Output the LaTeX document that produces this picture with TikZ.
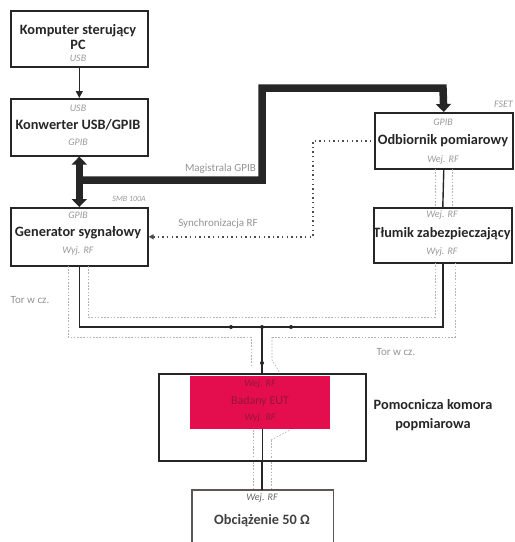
\documentclass[tikz,border=0pt]{standalone}
\usepackage{fontspec}
\setmainfont{Carlito}
\usetikzlibrary{arrows.meta}
\definecolor{dutred}{RGB}{228,14,78}
\definecolor{duttext}{RGB}{150,20,55}
\definecolor{loadframe}{RGB}{95,85,85}
\begin{document}
\begin{tikzpicture}[x=1pt,y=-1pt,
  box/.style={draw=black!85, line width=1.6pt, minimum width=137pt, minimum height=56pt, anchor=north west, inner sep=0pt},
  title/.style={font=\bfseries\fontsize{14.3}{16}\selectfont, text=black!85, inner sep=0pt},
  port/.style={font=\itshape\fontsize{10}{11}\selectfont, text=gray!80, inner sep=0pt},
  note/.style={font=\fontsize{11}{12}\selectfont, text=gray!85, inner sep=0pt},
  bus/.style={line width=7.5pt, draw=black!85},
  cable/.style={line width=1.4pt, draw=black!85},
  shield/.style={draw=gray!60, line width=0.7pt, dash pattern=on 1.6pt off 1.6pt},
  sync/.style={draw=black!70, line width=1.4pt, dash pattern=on 1.4pt off 3.2pt},
  dot/.style={circle, fill=black!85, inner sep=0pt, minimum size=4pt}]
\useasboundingbox (0,0) rectangle (515,542);

% boxes
\node[box] (pc) at (10,10) {};
\node[title] (pct1) at (78,31) {Komputer sterujący};
\node[title] (pct2) at (78,45) {PC};
\node[port] (pcu) at (78,58) {USB};

\node[box, minimum height=57pt] (conv) at (10,98) {};
\node[port] (convu) at (78,108) {USB};
\node[title] (convt) at (78,125) {Konwerter USB/GPIB};
\node[port] (convg) at (78,142) {GPIB};

\node[box, minimum height=58pt] (gen) at (10,207) {};
\node[port] (geng) at (78,215) {GPIB};
\node[title] (gent) at (78,233) {Generator sygnałowy};
\node[port] (genw) at (78,251) {Wyj. RF};
\node[port, anchor=east, font=\itshape\fontsize{8}{9}\selectfont] (smb) at (146,199) {SMB 100A};

\node[box, minimum width=138pt] (odb) at (374,112) {};
\node[port] (odbg) at (443,122) {GPIB};
\node[title] (odbt) at (443,141) {Odbiornik pomiarowy};
\node[port] (odbw) at (443,160) {Wej. RF};
\node[port, anchor=east] (fset) at (513,104) {FSET};

\node[box, minimum width=138pt, minimum height=55pt] (tl) at (373,207) {};
\node[port] (tlw) at (442,215) {Wej. RF};
\node[title] (tlt) at (442,234) {Tłumik zabezpieczający};
\node[port] (tly) at (442,252) {Wyj. RF};

% chamber and DUT
\node[draw=black!85, line width=2.2pt, minimum width=207pt, minimum height=87pt, anchor=north west, inner sep=0pt] (ch) at (158,373) {};
\node[fill=dutred, minimum width=140pt, minimum height=53pt, anchor=north west, inner sep=0pt] (dut) at (190,376) {};
\node[port, text=duttext] (dutw) at (260,384) {Wej. RF};
\node[note, text=duttext, font=\fontsize{12}{13}\selectfont] (dutt) at (260,401) {Badany EUT};
\node[port, text=duttext] (duty) at (260,418) {Wyj. RF};
\node[title] (cht1) at (433,405) {Pomocnicza komora};
\node[title] (cht2) at (433,425) {popmiarowa};

% load
\node[minimum width=141pt, minimum height=60pt, anchor=north west, inner sep=0pt] (load) at (192,490) {};
\draw[draw=loadframe, line width=1.4pt] (load.south west) -- (load.north west) -- (load.north east) -- (load.south east);
\node[port, text=black!60] (loadw) at (262,498) {Wej. RF};
\node[title, text=black!75] (loadt) at (262,521) {Obciążenie 50 Ω};

% PC -> converter
\draw[line width=1.2pt, draw=black!85, -{Triangle[length=7pt,width=7pt]}] (pc.south) -- (conv.north);

% GPIB bus
\coordinate (j1) at (78.5,180);
\coordinate (c1) at (262,180);
\coordinate (c2) at (262,88);
\coordinate (c3) at (443,88);
\draw[bus, {Triangle[length=8pt,width=15pt]}-{Triangle[length=8pt,width=15pt]}] (conv.south) -- (gen.north);
\draw[bus, line join=miter, -{Triangle[length=8pt,width=15pt]}] (j1) -- (c1) -- (c2) -- (c3) -- (odb.north);
\node[note, anchor=east] (mag) at (256,169) {Magistrala GPIB};

% synchronisation
\coordinate (s) at (313,0);
\draw[sync, {Triangle[length=5pt,width=5pt]}-] (gen.east) -- (gen.east -| s) |- (odb.west);
\node[note] (syn) at (218,224) {Synchronizacja RF};

% RF cables
\coordinate (yb) at (0,327);
\coordinate (jl) at (231,327);
\coordinate (jm) at (262,327);
\coordinate (jr) at (291,327);
\coordinate (jd) at (262,363);
\draw[cable] (odb.south) -- (tl.north);
\draw[cable] (tl.south) -- (tl.south |- yb) -- (gen.south |- yb) -- (gen.south);
\draw[cable] (jm) -- (jd) -- (ch.north -| jm);
\draw[cable] (ch.south -| jm) -- (load.north -| jm);
\draw[cable, line width=0.8pt] (dut.south -| jm) -- (ch.south -| jm);
\node[dot] (dl) at (jl) {};
\node[dot] (dm) at (jm) {};
\node[dot] (dr) at (jr) {};
\node[dot] (dd) at (jd) {};

% shields
\draw[shield] (68,266) -- (68,337) -- (251,337) -- (251,365);
\draw[shield] (272,337) -- (455,337) -- (455,263);
\draw[shield] (272,337) -- (272,360) -- (280,373);
\draw[shield] (88,266) -- (88,317) -- (435,317) -- (435,263);
\draw[shield] (435,169) -- (435,206);
\draw[shield] (452,169) -- (452,206);
\draw[shield] (253,430) -- (253,458);
\draw[shield] (271,440) -- (271,458);
\draw[shield] (271,440) -- (290,430);
\draw[shield] (253,462) -- (253,489);
\draw[shield] (271,462) -- (271,489);
\node[note] (tor1) at (30,300) {Tor w cz.};
\node[note] (tor2) at (396,352) {Tor w cz.};
\end{tikzpicture}
\end{document}
